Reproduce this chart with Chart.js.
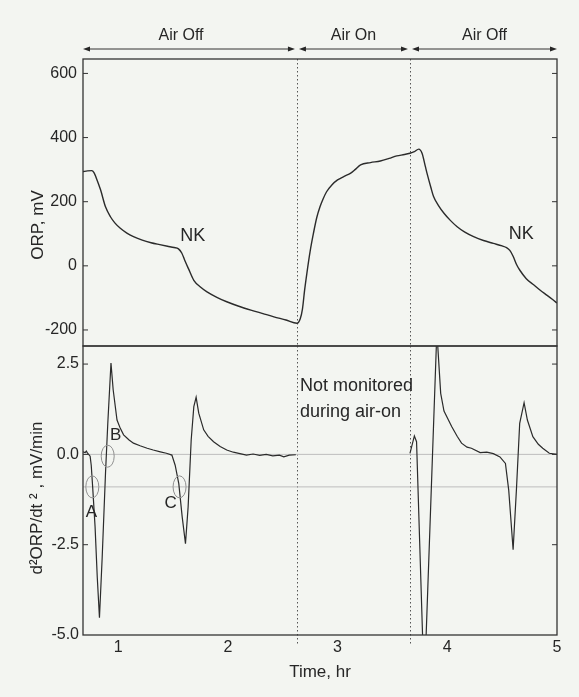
<!DOCTYPE html>
<html lang="en">
<head>
<meta charset="UTF-8">
<title>ORP and d2ORP/dt2 during aeration cycle</title>
<script src="https://cdn.jsdelivr.net/npm/chart.js"></script>
<style>
    body {
        margin: 0;
        background: #f3f5f1;
    }
    #wrap { position: relative; width: 579px; height: 697px; }
    #orpChart { position: absolute; left: 0; top: 0; }
    #d2Chart { position: absolute; left: 0; top: 340px; }
</style>
</head>
<body>
<div id="wrap">
    <canvas id="orpChart" width="579" height="350"></canvas>
    <canvas id="d2Chart" width="579" height="357"></canvas>
</div>
<script>
// axis ranges and ticks
const timeMin = 0.68, timeMax = 5.0;
const orpMin = -250, orpMax = 645;
const d2Min = -5, d2Max = 3;
const timeTicks = [1, 2, 3, 4, 5];
const orpTicks = [-200, 0, 200, 400, 600];
const d2Ticks = [-5, -2.5, 0, 2.5];

// aeration phases (hours)
const phaseLabels = ['Air Off', 'Air On', 'Air Off'];
const phaseEdges = [0.68, 2.63, 3.66, 5.0];

// ORP, mV
const orpTime = [0.68, 0.72, 0.76, 0.78, 0.80, 0.84, 0.885, 0.93, 0.97, 1.02, 1.08, 1.14, 1.22, 1.30, 1.38,
    1.45, 1.51, 1.55, 1.58, 1.61, 1.64, 1.69, 1.75, 1.81, 1.90, 1.99, 2.10, 2.21, 2.32, 2.42, 2.53, 2.63,
    2.66, 2.68, 2.70, 2.72, 2.75, 2.78, 2.81, 2.84, 2.87, 2.90, 2.95, 3.00, 3.06, 3.12, 3.16, 3.21, 3.30,
    3.39, 3.47, 3.54, 3.61, 3.66, 3.70, 3.74, 3.77, 3.80, 3.815, 3.85, 3.875, 3.92, 3.97, 4.03, 4.09, 4.16,
    4.24, 4.33, 4.42, 4.50, 4.54, 4.57, 4.60, 4.63, 4.66, 4.72, 4.79, 4.85, 4.91, 4.96, 5.00];
const orpValue = [294, 296, 297, 291, 275, 237, 184, 153, 134, 117, 102, 91, 80, 72, 66,
    61, 57, 53, 40, 15, -8, -45, -66, -81, -98, -112, -126, -138, -149, -159, -169, -179,
    -165, -135, -75, -24, 45, 101, 150, 184, 210, 231, 253, 268, 279, 289, 300, 315, 322,
    327, 335, 343, 347, 351, 356, 364, 351, 310, 289, 245, 216, 188, 164, 141, 122, 105,
    91, 79, 70, 62, 57, 48, 30, 5, -13, -40, -60, -77, -92, -105, -116];

// second derivative, mV/min2 (null = not monitored during air-on)
const d2Time = [0.68, 0.70, 0.71, 0.72, 0.745, 0.755, 0.768, 0.79, 0.81, 0.83, 0.855, 0.885, 0.906, 0.935,
    0.955, 0.99, 1.02, 1.05, 1.10, 1.14, 1.20, 1.265, 1.32, 1.385, 1.44, 1.49, 1.52, 1.553, 1.584, 1.614,
    1.638, 1.666, 1.69, 1.711, 1.735, 1.78, 1.82, 1.87, 1.93, 1.99, 2.05, 2.11, 2.17, 2.23, 2.29, 2.35,
    2.41, 2.47, 2.51, 2.56, 2.62, 3.0,
    3.66, 3.70, 3.72, 3.79, 3.905, 3.94, 3.97, 4.04, 4.09, 4.13, 4.18, 4.22, 4.30, 4.36, 4.42, 4.48,
    4.53, 4.56, 4.60, 4.63, 4.66, 4.70, 4.73, 4.78, 4.83, 4.87, 4.93, 5.00];
const d2Value = [0.07, 0.05, 0.09, 0.04, -0.05, -0.3, -0.9, -2.0, -3.4, -4.52, -2.84, -0.53, 0.86, 2.53,
    1.79, 0.95, 0.72, 0.54, 0.40, 0.31, 0.24, 0.17, 0.12, 0.07, 0.03, -0.02, -0.30, -0.81, -1.73, -2.47,
    -1.46, 0.40, 1.32, 1.58, 1.14, 0.68, 0.50, 0.35, 0.22, 0.12, 0.06, 0.02, -0.02, 0.01, -0.03, 0.00,
    -0.04, -0.02, -0.07, -0.02, -0.01, null,
    0.03, 0.51, 0.35, -6.5, 3.4, 1.69, 1.2, 0.77, 0.50, 0.31, 0.20, 0.17, 0.05, 0.06, 0.02, -0.07,
    -0.25, -0.99, -2.64, -0.99, 0.86, 1.43, 0.95, 0.49, 0.28, 0.17, 0.03, 0.00];

// guide levels in the lower panel
const refLevels = [0, -0.9];

// circled points A, B, C
const markLabels = ['A', 'B', 'C'];
const markTime = [0.765, 0.905, 1.56];
const markLevel = [-0.9, -0.05, -0.9];

// NK labels on the ORP curve
const nkTime = [1.68, 4.675];
const nkLevel = [93, 99];

const FONT = '"Liberation Sans", Arial, Helvetica, sans-serif';
const INK = '#262626';

function pts(xs, ys) {
    return xs.map((x, i) => ({ x: x, y: ys[i] }));
}

// keep the plot area exactly where the layout padding puts it
function fixWidth(w) {
    return s => { s.width = w; s.paddingTop = 0; s.paddingBottom = 0; };
}

// frame and inward ticks shared by both panels
function drawFrame(chart, ticks, yId) {
    const { ctx, chartArea: a, scales } = chart;
    ctx.save();
    ctx.strokeStyle = '#333';
    ctx.lineWidth = 1.3;
    ctx.strokeRect(a.left, a.top, a.right - a.left, a.bottom - a.top);
    ctx.lineWidth = 1;
    ticks.forEach(v => {
        const y = scales[yId].getPixelForValue(v);
        if (y <= a.top + 1 || y >= a.bottom - 1) return;
        ctx.beginPath();
        ctx.moveTo(a.left, y); ctx.lineTo(a.left + 5, y);
        ctx.moveTo(a.right, y); ctx.lineTo(a.right - 5, y);
        ctx.stroke();
    });
    ctx.restore();
}

function drawPhaseLines(chart, extendBottom) {
    const { ctx, chartArea: a, scales } = chart;
    ctx.save();
    ctx.strokeStyle = '#555';
    ctx.lineWidth = 1;
    ctx.setLineDash([1.5, 2.5]);
    phaseEdges.slice(1, -1).forEach(t => {
        const x = Math.round(scales.x.getPixelForValue(t)) + 0.5;
        ctx.beginPath();
        ctx.moveTo(x, a.top);
        ctx.lineTo(x, a.bottom + extendBottom);
        ctx.stroke();
    });
    ctx.restore();
}

function arrowHead(ctx, x, y, dir) {
    ctx.beginPath();
    ctx.moveTo(x, y);
    ctx.lineTo(x - dir * 7, y - 2.5);
    ctx.lineTo(x - dir * 7, y + 2.5);
    ctx.closePath();
    ctx.fill();
}

const orpDecor = {
    id: 'orpDecor',
    beforeDatasetsDraw(chart) {
        drawPhaseLines(chart, 0);
    },
    afterDraw(chart) {
        const { ctx, chartArea: a, scales } = chart;
        drawFrame(chart, orpTicks, 'y');
        ctx.save();
        ctx.fillStyle = INK;
        ctx.strokeStyle = '#333';
        ctx.lineWidth = 1;
        // phase arrows above the frame
        const ay = a.top - 10;
        for (let i = 0; i < phaseLabels.length; i++) {
            const x0 = scales.x.getPixelForValue(phaseEdges[i]) + (i === 0 ? 0 : 2);
            const x1 = scales.x.getPixelForValue(phaseEdges[i + 1]) - (i === phaseLabels.length - 1 ? 0 : 2);
            ctx.beginPath();
            ctx.moveTo(x0 + 3, ay); ctx.lineTo(x1 - 3, ay);
            ctx.stroke();
            arrowHead(ctx, x0, ay, -1);
            arrowHead(ctx, x1, ay, 1);
            ctx.font = '16px ' + FONT;
            ctx.textAlign = 'center';
            ctx.textBaseline = 'middle';
            ctx.fillText(phaseLabels[i], (x0 + x1) / 2 - (i === 0 ? 8 : 0), a.top - 23);
        }
        // NK labels
        ctx.font = '18px ' + FONT;
        nkTime.forEach((t, i) => {
            ctx.fillText('NK', scales.x.getPixelForValue(t), scales.y.getPixelForValue(nkLevel[i]));
        });
        // y title
        ctx.translate(38, 225);
        ctx.rotate(-Math.PI / 2);
        ctx.font = '17px ' + FONT;
        ctx.fillText('ORP, mV', 0, 0);
        ctx.restore();
    }
};

const d2Decor = {
    id: 'd2Decor',
    beforeDatasetsDraw(chart) {
        drawPhaseLines(chart, 9);
    },
    afterDraw(chart) {
        const { ctx, chartArea: a, scales } = chart;
        drawFrame(chart, d2Ticks, 'y');
        ctx.save();
        // circled points
        ctx.strokeStyle = '#8f8f8f';
        ctx.lineWidth = 1;
        const offs = [[-1, 25], [8, -21], [-9, 16]];
        ctx.fillStyle = INK;
        ctx.font = '17px ' + FONT;
        ctx.textAlign = 'center';
        ctx.textBaseline = 'middle';
        markLabels.forEach((m, i) => {
            const x = scales.x.getPixelForValue(markTime[i]);
            const y = scales.y.getPixelForValue(markLevel[i]);
            ctx.beginPath();
            ctx.ellipse(x, y, 6.5, 11, 0, 0, Math.PI * 2);
            ctx.stroke();
            ctx.fillText(m, x + offs[i][0], y + offs[i][1]);
        });
        // note in the unmonitored gap
        ctx.font = '18px ' + FONT;
        ctx.textAlign = 'left';
        const nx = scales.x.getPixelForValue(phaseEdges[1]) + 3;
        ctx.fillText('Not monitored', nx, a.top + 40);
        ctx.fillText('during air-on', nx, a.top + 66);
        // x title
        ctx.font = '17px ' + FONT;
        ctx.textAlign = 'center';
        ctx.fillText('Time, hr', (a.left + a.right) / 2, a.bottom + 37);
        // y title
        ctx.translate(37, 158);
        ctx.rotate(-Math.PI / 2);
        ctx.fillText('d\u00B2ORP/dt \u00B2 , mV/min', 0, 0);
        ctx.restore();
    }
};

const tickFont = { family: FONT, size: 16 };

new Chart(document.getElementById('orpChart').getContext('2d'), {
    type: 'line',
    data: {
        datasets: [{
            data: pts(orpTime, orpValue),
            borderColor: '#2b2b2b',
            borderWidth: 1.4,
            pointRadius: 0,
            cubicInterpolationMode: 'monotone',
            fill: false
        }]
    },
    options: {
        responsive: false,
        animation: false,
        layout: { padding: { top: 59, right: 22, bottom: 4, left: 0 } },
        plugins: { legend: { display: false }, tooltip: { enabled: false } },
        scales: {
            x: { type: 'linear', min: timeMin, max: timeMax, display: false },
            y: {
                min: orpMin, max: orpMax,
                afterFit: fixWidth(83),
                afterBuildTicks(s) { s.ticks = orpTicks.map(v => ({ value: v })); },
                grid: { display: false, drawTicks: false },
                border: { display: false },
                ticks: { color: INK, font: tickFont, padding: 6 }
            }
        }
    },
    plugins: [orpDecor]
});

const guideSets = refLevels.map(v => ({
    data: [{ x: timeMin, y: v }, { x: timeMax, y: v }],
    borderColor: '#bdbdbd',
    borderWidth: 1,
    pointRadius: 0
}));

new Chart(document.getElementById('d2Chart').getContext('2d'), {
    type: 'line',
    data: {
        datasets: [{
            data: pts(d2Time, d2Value),
            borderColor: '#2b2b2b',
            borderWidth: 1.2,
            pointRadius: 0,
            tension: 0,
            spanGaps: false,
            fill: false
        }].concat(guideSets)
    },
    options: {
        responsive: false,
        animation: false,
        layout: { padding: { top: 6, right: 22, bottom: 0, left: 0 } },
        plugins: { legend: { display: false }, tooltip: { enabled: false } },
        scales: {
            x: {
                type: 'linear', min: timeMin, max: timeMax,
                afterFit(s) { s.height = 62; s.paddingLeft = 0; s.paddingRight = 0; },
                afterBuildTicks(s) { s.ticks = timeTicks.map(v => ({ value: v })); },
                grid: { display: false, drawTicks: false },
                border: { display: false },
                ticks: { color: INK, font: tickFont, padding: 3, maxRotation: 0 }
            },
            y: {
                min: d2Min, max: d2Max,
                afterFit: fixWidth(83),
                afterBuildTicks(s) { s.ticks = d2Ticks.map(v => ({ value: v })); },
                grid: { display: false, drawTicks: false },
                border: { display: false },
                ticks: { color: INK, font: tickFont, padding: 4, callback: v => v.toFixed(1) }
            }
        }
    },
    plugins: [d2Decor]
});
</script>
</body>
</html>
